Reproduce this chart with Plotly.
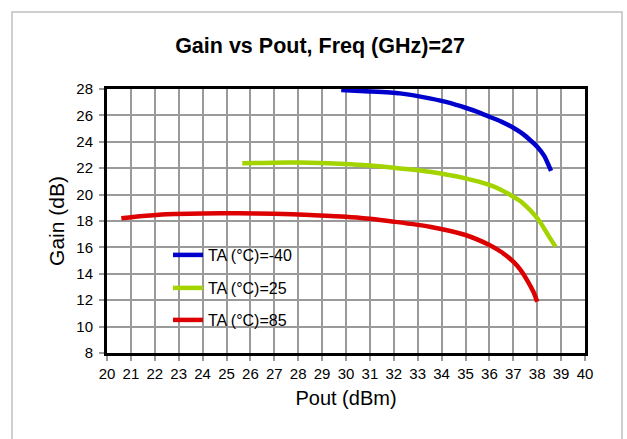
import plotly.graph_objects as go

# Gain vs output power at 27 GHz, one curve per ambient temperature
pout_m40 = [29.8, 31.0, 32.25, 33.5, 34.3, 35.0, 35.5, 36.0, 36.5, 37.0, 37.4, 37.7, 38.0, 38.3, 38.58]
gain_m40 = [27.92, 27.82, 27.67, 27.29, 26.97, 26.58, 26.27, 25.9, 25.53, 25.07, 24.6, 24.14, 23.63, 22.92, 21.79]

pout_25 = [25.66, 26.5, 27.5, 28.5, 30.0, 31.0, 32.0, 33.5, 35.0, 36.0, 36.5, 37.0, 37.4, 37.7, 38.1, 38.45, 38.77]
gain_25 = [22.37, 22.4, 22.43, 22.41, 22.32, 22.2, 22.04, 21.73, 21.23, 20.73, 20.35, 19.84, 19.35, 18.83, 17.98, 16.95, 16.05]

pout_85 = [20.6, 21.5, 22.5, 24.0, 25.5, 27.0, 28.5, 30.0, 31.0, 32.0, 33.5, 35.0, 36.0, 36.5, 37.0, 37.3, 37.6, 37.85, 38.0]
gain_85 = [18.2, 18.38, 18.52, 18.57, 18.58, 18.55, 18.45, 18.33, 18.17, 17.95, 17.57, 16.94, 16.18, 15.65, 14.92, 14.3, 13.45, 12.6, 11.89]

series_names = ["TA (°C)=-40", "TA (°C)=25", "TA (°C)=85"]
series_colors = ["#0000cc", "#a3d400", "#dd0000"]
series_x = [pout_m40, pout_25, pout_85]
series_y = [gain_m40, gain_25, gain_85]
legend_ids = ["legend", "legend2", "legend3"]

x_ticks = list(range(20, 41))
y_ticks = list(range(8, 29, 2))

FONT = "Liberation Sans, Arial, sans-serif"

fig = go.Figure()
for name, color, xs, ys, lg in zip(series_names, series_colors, series_x, series_y, legend_ids):
    fig.add_trace(go.Scatter(
        x=xs, y=ys, name=name, mode="lines",
        line=dict(color=color, width=4.5, shape="spline", smoothing=0.6),
        legend=lg,
    ))

W, H = 627, 439
ML, MR, MT, MB = 107, 42, 89, 86
pw, ph = W - ML - MR, H - MT - MB


def px_x(p):
    return (p - ML) / pw


def px_y(p):
    return (H - MB - p) / ph


legend_common = dict(
    bgcolor="rgba(0,0,0,0)", borderwidth=0,
    font=dict(family=FONT, size=16, color="#000000"),
    xanchor="left", yanchor="middle", itemwidth=30,
)

fig.update_layout(
    width=W, height=H,
    margin=dict(l=ML, r=MR, t=MT, b=MB),
    paper_bgcolor="white", plot_bgcolor="white",
    font=dict(family=FONT, color="#000000"),
    title=dict(
        text="<b>Gain vs Pout, Freq (GHz)=27</b>",
        font=dict(family=FONT, size=21.5, color="#000000"),
        x=320 / W, xref="container", xanchor="center",
        y=1 - 45 / H, yref="container", yanchor="middle",
    ),
    showlegend=True,
    legend=dict(x=px_x(168), y=px_y(255), **legend_common),
    legend2=dict(x=px_x(168), y=px_y(288), **legend_common),
    legend3=dict(x=px_x(168), y=px_y(320), **legend_common),
    xaxis=dict(
        range=[20, 40], tickmode="array", tickvals=x_ticks,
        ticktext=[str(v) for v in x_ticks],
        showgrid=True, gridcolor="#9a9a9a", gridwidth=2,
        showline=True, linecolor="#000000", linewidth=3, mirror=True,
        ticks="outside", ticklen=5, tickcolor="#9a9a9a", tickwidth=2,
        tickfont=dict(family=FONT, size=15, color="#000000"),
        title=dict(text="Pout (dBm)", font=dict(family=FONT, size=20, color="#000000"), standoff=10),
        zeroline=False,
    ),
    yaxis=dict(
        range=[8, 28], tickmode="array", tickvals=y_ticks,
        ticktext=[str(v) for v in y_ticks],
        showgrid=True, gridcolor="#9a9a9a", gridwidth=2,
        showline=True, linecolor="#000000", linewidth=3, mirror=True,
        ticks="outside", ticklen=5, tickcolor="#9a9a9a", tickwidth=2,
        ticklabelstandoff=3,
        tickfont=dict(family=FONT, size=15, color="#000000"),
        title=dict(text="Gain (dB)", font=dict(family=FONT, size=21, color="#000000"), standoff=6),
        zeroline=False,
    ),
    shapes=[
        # outer chart frame
        dict(type="rect", xref="paper", yref="paper",
             x0=px_x(12), x1=px_x(622), y0=px_y(470), y1=px_y(12),
             line=dict(color="#c0c0c0", width=1.5), fillcolor="rgba(0,0,0,0)", layer="below"),
        # white legend panel over the grid
        dict(type="rect", xref="paper", yref="paper",
             x0=px_x(122), x1=px_x(317), y0=px_y(337), y1=px_y(238),
             line=dict(width=0), fillcolor="white", layer="between"),
    ],
)

fig.write_html("out.html")
